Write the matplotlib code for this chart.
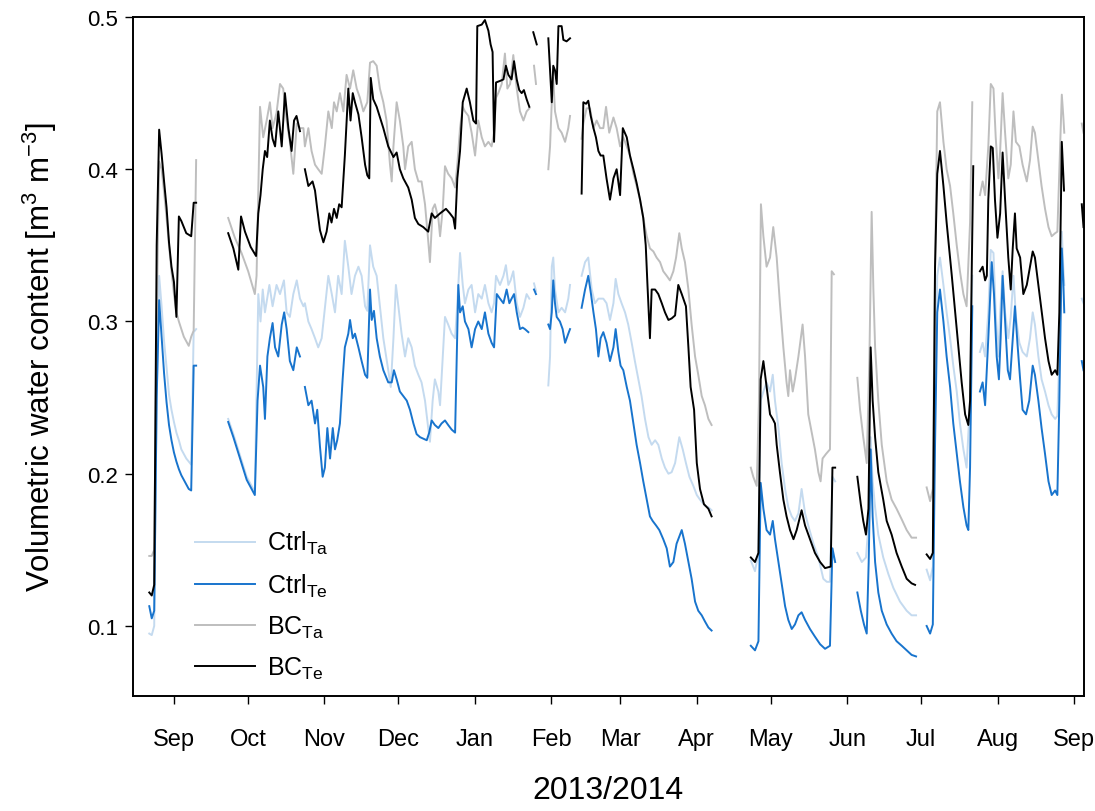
import datetime as dt

import numpy as np
import matplotlib
matplotlib.use("Agg")
import matplotlib.pyplot as plt
import matplotlib.dates as mdates
from matplotlib.lines import Line2D

# (days after 1 Sep 2013, volumetric water content); None marks a gap in logging
GAP = None

CTRL_TA = [
    (-10, .095), (-9, .094), (-8, .100), (-7, .250), (-6, .330), (-5, .310), (-4, .287), (-3, .270), (-2, .252),
    (-1, .242), (0, .234), (1, .227), (2, .222), (3, .216), (4, .213), (5, .210), (6, .208), (7, .206), (8, .293), (9, .295),
    GAP,
    (22, .236), (24.1, .226), (26.8, .212), (29.5, .198), (31.5, .192), (32.8, .188), (34.2, .318), (35.1, .300),
    (36, .321), (36.9, .306), (38.7, .324), (40, .310), (41.6, .324), (43, .318), (44.6, .327), (45.7, .306), (47, .303),
    (48.4, .318), (49.8, .327), (51.1, .315), (52.5, .310), (53.1, .312), (54.5, .300), (55.8, .295), (57.2, .289),
    (58.5, .283), (59.9, .289), (61.2, .309), (62.6, .330), (64, .318), (65.3, .306), (66.6, .330), (68, .318),
    (69.3, .353), (70.7, .336), (72, .318), (73.4, .330), (74.8, .336), (76.1, .330), (77.5, .310), (78.4, .307),
    (79.5, .350), (80.8, .336), (82.2, .330), (83.5, .310), (84.9, .289), (86.9, .268), (87.9, .257), (89, .289),
    (90, .324), (91, .310), (92.3, .292), (93.7, .277), (95, .289), (96.4, .283), (97.7, .271), (99.1, .265),
    (100.4, .260), (101.8, .248), (103.1, .230), (103.8, .221), (104.9, .248), (105.8, .262), (107.2, .254),
    (107.9, .245), (109, .277), (109.9, .303), (111.2, .298), (112.6, .292), (114, .289), (114.9, .312), (116, .345),
    (117.1, .324), (118, .312), (119.4, .321), (120.7, .324), (122.1, .306), (123.4, .318), (124.8, .315),
    (126.1, .324), (127.5, .312), (128.8, .306), (129.8, .312), (130.6, .330), (132.2, .324), (133.6, .330),
    (134.6, .337), (135.6, .324), (136.5, .327), (137.6, .333), (139, .312), (140.3, .303), (141.7, .309),
    (143, .318), (144.1, .315),
    GAP,
    (146, .325), (146.8, .320),
    GAP,
    (151.8, .258), (152.5, .277), (153.2, .336), (153.8, .342), (154.5, .321), (155.9, .306), (157.2, .309),
    (158.6, .306), (159.9, .315), (160.6, .324),
    GAP,
    (165.3, .330), (166.7, .339), (168, .342), (169.4, .321), (170.7, .312), (172.1, .315), (174.1, .315),
    (175.4, .312), (176.8, .301), (178.2, .312), (179.1, .328), (180.2, .318), (181.5, .312), (182.9, .306),
    (184.2, .298), (185.6, .286), (186.9, .274), (188.3, .262), (189.6, .251), (191, .236), (192.4, .224),
    (193.7, .219), (195.1, .222), (196.4, .219), (197.8, .210), (199.1, .204), (200.5, .200), (201.8, .201),
    (203.2, .207), (204.9, .224), (206.3, .216), (207.6, .207), (209, .198), (210.6, .192), (212, .186),
    (213.3, .183), (215.3, .179), (216.7, .178), (218, .176),
    GAP,
    (233.9, .143), (235.6, .136), (237, .148), (237.9, .248), (239, .254), (240.3, .260), (241.7, .254),
    (242.8, .265), (243.7, .248), (245.1, .230), (246.4, .207), (247.8, .190), (249.1, .178), (250.5, .172),
    (251.8, .169), (253.2, .174), (254.5, .190), (255.9, .174), (257.2, .166), (259.3, .154), (261.3, .145),
    (263.3, .131), (264.7, .129), (266, .129), (267, .198), (268.1, .195),
    GAP,
    (277.1, .148), (278.9, .142), (280.6, .145), (281.6, .166), (282.5, .224), (283.3, .195), (284.3, .178),
    (285.6, .160), (287.6, .145), (289.7, .134), (291.7, .125), (294.4, .116), (297.1, .110), (299.1, .107),
    (300.9, .107),
    GAP,
    (305.2, .137), (306.6, .130), (307.7, .139), (308.6, .248), (309.5, .330), (310.6, .342), (312, .324),
    (313.3, .306), (314.7, .289), (316, .271), (317.4, .254), (318.7, .233), (320.1, .216), (321.4, .204),
    (322.8, .248), (323.7, .330),
    GAP,
    (326.8, .280), (327.9, .286), (328.9, .277), (330.2, .306), (331.2, .347), (332.3, .345), (333.2, .306),
    (334.3, .277), (335, .306), (336, .333), (337, .306), (338.3, .289), (339.3, .303), (340.4, .330),
    (341.4, .303), (342.8, .286), (344.1, .280), (345.8, .277), (347.1, .289), (348.2, .306), (349.1, .298),
    (350.5, .277), (351.8, .262), (353.2, .254), (354.6, .245), (355.9, .239), (357.3, .236), (358.2, .238),
    (359, .277), (360, .359), (360.6, .336), (361, .324),
    GAP,
    (368.1, .315), (368.8, .312),
]

CTRL_TE = [
    (-10, .113), (-9, .105), (-8, .110), (-7, .250), (-6, .314), (-5, .290), (-4, .266), (-3, .247), (-2, .232),
    (-1, .222), (0, .214), (1, .208), (2, .203), (3, .199), (4, .196), (5, .193), (6, .190), (7, .189), (8, .271), (9, .271),
    GAP,
    (22, .234), (24.1, .224), (26.8, .210), (29.5, .196), (31.5, .190), (32.8, .186), (33.9, .248), (34.9, .271),
    (36.2, .257), (36.9, .236), (37.9, .277), (38.9, .289), (40, .299), (41, .283), (42.3, .277), (43.7, .298),
    (44.7, .306), (45.7, .295), (47, .274), (48.4, .268), (49.8, .283), (51.1, .277),
    GAP,
    (53.1, .257), (54.5, .245), (55.8, .248), (57.2, .233), (58.1, .242), (59.2, .218), (60.3, .198), (61.2, .204),
    (62.2, .230), (63.3, .210), (64.4, .230), (65.3, .216), (66.2, .222), (67.3, .233), (68.4, .262), (69.3, .283),
    (70.7, .292), (71.4, .301), (72.5, .289), (73.4, .292), (74.8, .283), (76.1, .274), (77.5, .265), (78.4, .263),
    (79.5, .321), (80.2, .301), (81.1, .307), (82.2, .289), (83.5, .277), (84.9, .268), (86.9, .260), (88.3, .260),
    (89.2, .268), (90.3, .262), (91.6, .254), (93, .251), (94.4, .248), (95.7, .242), (97.1, .233), (98.4, .226),
    (99.8, .224), (101.1, .223), (102.5, .222), (103.5, .227), (104.5, .235), (105.8, .232), (107.2, .230),
    (108.5, .233), (109.9, .235), (111.2, .232), (112.6, .229), (114, .227), (115.3, .324), (116, .306),
    (117.1, .310), (118, .300), (119.4, .295), (120.7, .283), (122.1, .295), (123.4, .300), (124.8, .295),
    (126.1, .306), (127.5, .292), (128.8, .286), (129.8, .283), (130.9, .318), (132.2, .315), (133.6, .312),
    (134.9, .321), (136, .312), (136.9, .315), (137.9, .318), (139, .306), (140.3, .295), (141.4, .296),
    (142.3, .295), (143.7, .293),
    GAP,
    (146, .321), (146.8, .318),
    GAP,
    (151.8, .298), (152.5, .295), (153.2, .306), (153.8, .327), (154.5, .312), (155.2, .303), (156.5, .300),
    (157.6, .295), (158.6, .286), (159.9, .292), (160.6, .295),
    GAP,
    (165.3, .309), (166.7, .321), (168, .330), (169.1, .318), (170.1, .306), (171.1, .295), (172.1, .277),
    (173, .289), (174.1, .293), (175.4, .286), (176.8, .274), (178.2, .283), (179.1, .295), (180.2, .280),
    (181.1, .271), (182.2, .268), (183.6, .257), (184.9, .248), (186.3, .233), (187.6, .219), (189, .207),
    (190.3, .195), (191.7, .183), (193, .172), (194.1, .169), (195.5, .166), (196.8, .163), (198.4, .157),
    (199.8, .151), (201.1, .139), (202.5, .142), (203.8, .154), (205.9, .163), (207.2, .154), (208.6, .142),
    (209.9, .131), (211.3, .116), (212.6, .110), (214, .107), (215.3, .103), (216.7, .099), (218, .097),
    GAP,
    (233.9, .087), (235.6, .084), (237, .090), (237.9, .194), (239, .177), (240.3, .163), (241.7, .160),
    (242.8, .169), (243.7, .157), (245.1, .142), (246.4, .128), (247.8, .113), (249.1, .104), (250.5, .098),
    (251.8, .101), (253.2, .107), (254.5, .109), (255.9, .104), (257.9, .098), (259.9, .093), (262, .088),
    (264, .085), (266, .087), (267, .151), (268.1, .142),
    GAP,
    (277.1, .122), (278.5, .110), (279.8, .101), (280.9, .095), (281.7, .142), (282.5, .216), (283.3, .172),
    (284.3, .142), (285.6, .122), (287, .110), (289, .101), (291, .095), (293, .090), (295.1, .087), (297.1, .084),
    (299.1, .081), (300.9, .080),
    GAP,
    (305.2, .100), (306.6, .095), (307.7, .101), (308.6, .219), (309.5, .306), (310.6, .321), (312, .300),
    (313.3, .277), (314.7, .257), (316, .233), (317.4, .213), (318.7, .195), (320.1, .178), (321.4, .166),
    (322.1, .163), (322.8, .204), (323.7, .310),
    GAP,
    (326.8, .254), (327.9, .260), (328.9, .245), (330.2, .289), (331.6, .339), (332.5, .318), (333.6, .277),
    (334.5, .262), (335.2, .289), (336, .330), (337, .300), (338.1, .268), (339, .262), (340.1, .289), (341, .310),
    (342, .286), (343.1, .262), (344.1, .242), (345.5, .239), (346.8, .248), (348.2, .271), (349.1, .265),
    (350.5, .248), (351.8, .230), (353.2, .213), (354.6, .195), (355.9, .186), (357.3, .189), (358.2, .186),
    (359, .248), (360, .348), (360.6, .327), (361, .306),
    GAP,
    (368.1, .274), (368.8, .268),
]

BC_TA = [
    (-10, .146), (-9, .146), (-8, .150), (-7, .300), (-6, .405), (-5, .400), (-4, .385), (-3, .368), (-2, .350),
    (-1, .333), (0, .318), (1, .306), (2, .300), (3, .295), (4, .290), (5, .287), (6, .284), (7, .290), (8, .294), (9, .406),
    GAP,
    (22, .368), (24.7, .355), (27.4, .345), (30.1, .333), (32.8, .318), (33.5, .330), (34.9, .441), (36.2, .421),
    (37.6, .432), (38.9, .444), (40, .427), (41.6, .437), (43, .456), (44.3, .453), (45.7, .432), (47, .418),
    (48.4, .397), (49.8, .430), (51.1, .427), (52.5, .427), (53.1, .415), (54.5, .427), (55.8, .412), (57.2, .403),
    (58.5, .400), (59.9, .397), (61.2, .415), (62.6, .438), (64, .427), (64.9, .444), (66, .438), (67.3, .450),
    (68.7, .438), (70, .462), (71.4, .453), (72.7, .465), (74.1, .453), (75.4, .447), (76.8, .438), (78.4, .444),
    (79.5, .470), (80.8, .471), (82.2, .468), (83.5, .453), (84.9, .444), (86.2, .432), (87.6, .403), (88.3, .392),
    (89, .415), (90.3, .444), (91.6, .432), (93, .415), (93.7, .400), (95, .415), (96.4, .418), (97.7, .400),
    (99.1, .392), (100.4, .392), (101.8, .377), (103.1, .353), (103.8, .339), (104.9, .374), (105.8, .377),
    (107.2, .368), (107.9, .356), (109, .374), (109.9, .402), (111.2, .397), (112.6, .394), (114, .388),
    (114.9, .403), (116, .427), (117.1, .441), (118, .438), (119.4, .435), (120.7, .424), (122.1, .409),
    (123.4, .432), (124.8, .421), (126.1, .415), (127.5, .418), (128.8, .415), (129.8, .424), (130.6, .447),
    (131.5, .450), (132.9, .456), (134.2, .476), (135.2, .453), (136.3, .456), (137.6, .475), (139, .453),
    (140.3, .438), (141.7, .432), (143, .438), (144.1, .440),
    GAP,
    (146, .468), (146.8, .456),
    GAP,
    (151.8, .400), (152.5, .415), (153.2, .444), (153.8, .460), (154.5, .438), (155.9, .427), (157.2, .424),
    (158.6, .418), (159.9, .427), (160.6, .435),
    GAP,
    (165.3, .420), (166, .430), (167.3, .440), (168.7, .440), (170.1, .427), (171.4, .432), (172.8, .427),
    (174.1, .427), (175.2, .441), (176.5, .424), (178.2, .434), (179.5, .427), (180.9, .415), (182.2, .421),
    (183.6, .415), (184.9, .409), (186.3, .397), (187.6, .389), (189, .380), (190.3, .368), (191.7, .356),
    (193, .348), (194.4, .346), (195.7, .342), (197.1, .339), (198.4, .333), (199.8, .330), (201.1, .327),
    (202.5, .333), (203.6, .342), (204.9, .358), (205.9, .348), (207.2, .339), (208.6, .321), (209.9, .298),
    (211.3, .277), (212.6, .265), (214, .251), (215.3, .245), (216.7, .236), (218, .232),
    GAP,
    (233.9, .204), (234.9, .198), (236.3, .192), (237.2, .248), (238, .377), (239, .356), (240.3, .336),
    (241.7, .342), (243, .362), (244.4, .342), (245.7, .312), (247.1, .283), (248.4, .260), (249.1, .251),
    (249.8, .268), (250.9, .254), (251.8, .262), (253.2, .277), (254.9, .298), (255.9, .277), (257.2, .239),
    (258.6, .227), (259.9, .216), (261.3, .201), (262.2, .195), (263, .210), (264.4, .213), (266, .216),
    (266.7, .333), (267.6, .331),
    GAP,
    (277.1, .263), (278.2, .242), (279.5, .224), (280.9, .207), (282, .277), (282.9, .372), (283.6, .321),
    (284.3, .283), (285.6, .248), (287, .219), (289, .195), (291, .183), (293, .177), (295.1, .170), (297.1, .163),
    (299.1, .158), (300.9, .158),
    GAP,
    (305.2, .191), (306.6, .182), (307.7, .190), (308.6, .336), (309.5, .438), (310.6, .444), (312, .418),
    (313.3, .400), (314.7, .389), (316, .371), (317.4, .350), (318.7, .333), (320.1, .318), (321.4, .310),
    (322.8, .365), (323.7, .444),
    GAP,
    (326.8, .383), (327.9, .392), (328.9, .383), (330.2, .415), (331.2, .456), (332.3, .453), (333.2, .421),
    (334.3, .394), (335, .412), (336, .450), (337, .424), (338.3, .394), (339.3, .403), (340.4, .438),
    (341.4, .418), (342.8, .415), (344.1, .403), (345.8, .392), (347.1, .406), (348.2, .428), (349.1, .424),
    (350.5, .406), (351.8, .389), (353.2, .374), (354.6, .362), (355.9, .356), (357.3, .358), (358.2, .359),
    (359, .400), (360, .449), (360.6, .435), (361, .424),
    GAP,
    (368.1, .430), (368.8, .424),
]

BC_TE = [
    (-10, .122), (-9, .120), (-8, .127), (-7, .350), (-6, .426), (-5, .410), (-4, .392), (-3, .375), (-2, .352),
    (-1, .336), (0, .326), (1, .303), (2, .369), (3, .366), (4, .362), (5, .358), (6, .357), (7, .356), (8, .378), (9, .378),
    GAP,
    (22, .358), (24.1, .348), (26.1, .334), (27.2, .369), (28.8, .359), (31.1, .349), (33.3, .343), (34.2, .371),
    (35.1, .383), (36, .400), (36.9, .412), (37.8, .408), (38.9, .432), (40, .420), (41, .415), (42.3, .438),
    (43.7, .415), (45, .450), (46.4, .427), (47.7, .412), (48.7, .432), (49.7, .435), (51.1, .425),
    GAP,
    (53.1, .400), (54.5, .389), (56.2, .392), (57.2, .386), (58.1, .374), (59.2, .360), (60.6, .352), (61.9, .359),
    (63, .371), (63.9, .365), (64.9, .374), (66, .368), (67, .377), (68, .375), (69.3, .409), (70.7, .453),
    (71.6, .432), (72.5, .450), (73.4, .444), (74.8, .436), (76.1, .421), (77.5, .403), (78.4, .396), (79.2, .394),
    (79.8, .460), (80.8, .446), (82.2, .441), (84.9, .427), (86.9, .415), (89, .408), (90.3, .411), (91.6, .400),
    (93, .394), (95, .388), (96.4, .380), (97.7, .368), (99.1, .364), (101.1, .362), (103.1, .359), (104.5, .371),
    (105.8, .368), (107.9, .371), (110.3, .374), (111.9, .371), (113.3, .368), (114, .361), (114.9, .394),
    (116, .412), (117.1, .444), (118.7, .453), (120, .444), (121.4, .432), (122.5, .430), (123, .494),
    (124.8, .495), (126.1, .498), (127.5, .491), (128.4, .482), (129.2, .477), (129.8, .418), (130.6, .457),
    (132.2, .458), (133.6, .459), (134.6, .468), (135.6, .462), (136.9, .459), (137.9, .471), (139, .459),
    (140, .452), (141, .450), (141.9, .452), (143, .446), (144.1, .441),
    GAP,
    (145.7, .490), (147.1, .482),
    GAP,
    (151.8, .486), (153.2, .444), (153.8, .468), (154.5, .465), (155.2, .456), (155.9, .494), (157.2, .494),
    (157.9, .485), (159.2, .484), (160.6, .486),
    GAP,
    (165.3, .384), (166, .444), (167.1, .443), (168, .445), (169, .435), (170.1, .427), (171.1, .421),
    (172.1, .412), (173, .409), (174.1, .409), (175.4, .394), (176.8, .380), (178.2, .394), (179.5, .400),
    (180.9, .383), (182, .427), (183.6, .421), (184.9, .409), (186.3, .400), (187.6, .391), (189, .380),
    (190.3, .368), (191.3, .350), (192, .324), (193, .289), (193.7, .321), (195.1, .321), (196.4, .318),
    (197.8, .312), (199.1, .306), (200.5, .301), (201.8, .302), (203.2, .304), (204.5, .324), (205.9, .318),
    (207.6, .310), (208.6, .283), (209.5, .257), (210.9, .242), (212, .207), (213.3, .190), (214.9, .180),
    (216.7, .177), (218, .172),
    GAP,
    (233.9, .145), (235.6, .142), (237, .148), (237.9, .262), (239, .274), (240.3, .257), (241.7, .239),
    (242.8, .236), (243.7, .233), (244.4, .219), (245.7, .201), (247.1, .183), (248.4, .172), (249.8, .163),
    (251.2, .157), (252.5, .163), (254.5, .176), (255.9, .166), (257.9, .157), (259.9, .148), (262, .142),
    (264, .138), (266.3, .139), (267, .204), (268.1, .204),
    GAP,
    (277.1, .198), (278.5, .180), (279.5, .169), (280.6, .160), (281.6, .177), (282.5, .283), (283.3, .248),
    (284.3, .224), (285.6, .201), (287.6, .183), (289, .169), (291, .160), (293, .148), (295.1, .139),
    (297.1, .131), (299.1, .128), (300.5, .127),
    GAP,
    (305.2, .147), (306.6, .144), (307.7, .148), (308.6, .336), (309.5, .397), (310.6, .412), (312, .389),
    (313.3, .365), (315.4, .330), (317.4, .295), (319.4, .260), (320.8, .239), (322.1, .232), (322.8, .248),
    (323.5, .336), (324.1, .402),
    GAP,
    (326.8, .333), (327.9, .336), (328.9, .327), (329.6, .330), (330.2, .380), (331.2, .415), (332, .414),
    (332.9, .380), (333.9, .355), (335, .371), (336, .411), (337, .380), (338.3, .342), (339.3, .321),
    (340.1, .348), (341, .371), (341.7, .348), (343.1, .342), (344.4, .318), (345.8, .324), (347.1, .336),
    (348.2, .346), (349.1, .342), (350.5, .324), (351.8, .307), (353.2, .289), (354.6, .274), (355.9, .265),
    (357.3, .268), (358.2, .265), (359, .306), (360, .418), (360.9, .386),
    GAP,
    (368.1, .377), (368.8, .362),
]

SERIES = [
    (r"Ctrl$_{\mathrm{Ta}}$", CTRL_TA, "#c4daef"),
    (r"Ctrl$_{\mathrm{Te}}$", CTRL_TE, "#1874cd"),
    (r"BC$_{\mathrm{Ta}}$", BC_TA, "#bebebe"),
    (r"BC$_{\mathrm{Te}}$", BC_TE, "#000000"),
]
DRAW_ORDER = [0, 2, 1, 3]

START = dt.date(2013, 9, 1)
YTICKS = [0.1, 0.2, 0.3, 0.4, 0.5]

plt.rcParams["font.family"] = ["Liberation Sans", "DejaVu Sans"]
plt.rcParams["mathtext.fontset"] = "custom"
plt.rcParams["mathtext.rm"] = "Liberation Sans"
plt.rcParams["mathtext.it"] = "Liberation Sans:italic"


def unpack(points):
    base = mdates.date2num(START)
    xs, ys = [], []
    for p in points:
        if p is None:
            xs.append(np.nan)
            ys.append(np.nan)
        else:
            xs.append(base + p[0])
            ys.append(p[1])
    return np.array(xs), np.array(ys)


fig = plt.figure(figsize=(10.95, 8.12), dpi=100)
ax = fig.add_axes([133 / 1095, 1 - 697 / 812, 951 / 1095, 679 / 812])

for i in DRAW_ORDER:
    label, pts, color = SERIES[i]
    x, y = unpack(pts)
    ax.plot(x, y, color=color, lw=1.4, solid_joinstyle="round")

base = mdates.date2num(START)
ax.set_xlim(base - 16.6, base + 369)
ax.set_ylim(0.054, 0.5)

ax.xaxis.set_major_locator(mdates.MonthLocator())
ax.xaxis.set_major_formatter(mdates.DateFormatter("%b"))
ax.set_yticks(YTICKS)
ax.set_yticklabels([f"{v:.1f}" for v in YTICKS], fontsize=16)
for lab in ax.get_xticklabels():
    lab.set_fontsize(17)

ax.tick_params(axis="both", direction="out", length=6, width=1.0, color="black")
ax.tick_params(axis="x", pad=17)
ax.tick_params(axis="y", pad=5)
for sp in ax.spines.values():
    sp.set_linewidth(1.4)

ax.set_xlabel("2013/2014", fontsize=23, labelpad=18)
ax.set_ylabel(r"Volumetric water content [m$^{3}$ m$^{-3}$]", fontsize=22.5)
ax.yaxis.set_label_coords(-0.078, 0.5)

handles = [Line2D([], [], color=c, lw=1.4) for _, _, c in SERIES]
labels = [lab for lab, _, _ in SERIES]
ax.legend(handles, labels, loc="lower left", bbox_to_anchor=(0.065, 0.022), frameon=False,
          fontsize=18, handlelength=2.4, handletextpad=0.5, labelspacing=0.6,
          borderpad=0, borderaxespad=0)

fig.savefig("out.png", dpi=100)
